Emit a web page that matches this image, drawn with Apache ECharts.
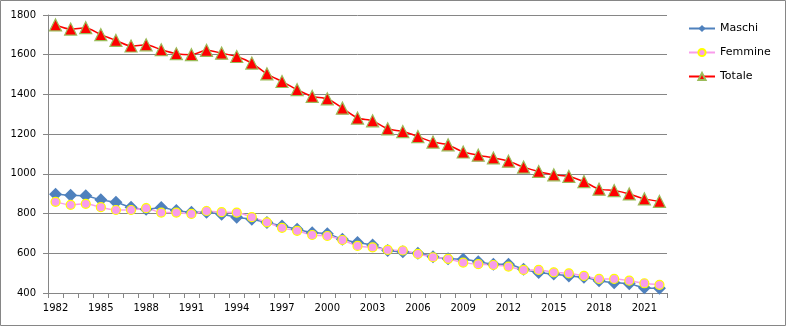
<!DOCTYPE html>
<html><head><meta charset="utf-8">
<script src="https://cdn.jsdelivr.net/npm/echarts@6/dist/echarts.min.js"></script>
<style>html,body{margin:0;padding:0;background:#fff}#c{width:786px;height:327px}</style>
</head><body><div id="c"></div>
<script>
const years = [];
for (let y = 1982; y <= 2022; y++) years.push(String(y));
const maschi = [897,892,890,869,857,832,822,830,815,807,807,797,782,771,755,738,721,704,698,671,654,642,614,608,600,583,572,570,558,545,545,519,503,496,486,479,462,452,446,427,424];
const femmine = [859,844,849,832,818,818,827,805,805,798,813,807,805,782,756,728,713,692,687,667,637,630,617,614,597,580,572,553,545,541,533,516,516,504,499,486,471,471,462,449,441];
const totale = [1750,1729,1736,1701,1672,1644,1650,1625,1605,1600,1622,1608,1591,1558,1504,1465,1424,1390,1378,1331,1281,1267,1227,1213,1188,1160,1146,1110,1094,1080,1064,1034,1012,995,987,961,923,916,899,874,861];
const yTicks = {min: 400, max: 1800, interval: 200};

const font = 'DejaVu Sans';
const chart = echarts.init(document.getElementById('c'), null, {renderer: 'canvas'});
chart.setOption({
  animation: false,
  backgroundColor: '#fff',
  graphic: [{type: 'rect', shape: {x: 0.5, y: 0.5, width: 785, height: 325}, style: {fill: 'none', stroke: '#868686', lineWidth: 1}, silent: true}],
  grid: {left: 48, right: 119, top: 15, bottom: 34},
  legend: {
    orient: 'vertical', left: 683, top: 18, itemWidth: 26, itemHeight: 9, itemGap: 13,
    textStyle: {fontFamily: font, fontSize: 11, color: '#000'},
    data: ['Maschi', 'Femmine', 'Totale']
  },
  xAxis: {
    type: 'category', data: years, boundaryGap: true,
    axisLine: {lineStyle: {color: '#868686'}},
    axisTick: {show: true, interval: 0, length: 5, lineStyle: {color: '#868686'}},
    axisLabel: {interval: 2, margin: 10, fontFamily: font, fontSize: 10, color: '#000'},
    splitLine: {show: false}
  },
  yAxis: {
    type: 'value', min: yTicks.min, max: yTicks.max, interval: yTicks.interval,
    axisLine: {show: true, lineStyle: {color: '#868686'}},
    axisTick: {show: true, length: 5, lineStyle: {color: '#868686'}},
    axisLabel: {margin: 12, fontFamily: font, fontSize: 10, color: '#000', formatter: v => String(v)},
    splitLine: {lineStyle: {color: '#868686', width: 1}}
  },
  series: [
    {name: 'Maschi', type: 'line', data: maschi, smooth: 0.25, showAllSymbol: true,
     symbol: 'diamond', symbolSize: 13,
     lineStyle: {color: '#4F81BD', width: 1.5},
     itemStyle: {color: '#4F81BD', borderColor: '#4F81BD', borderWidth: 0}},
    {name: 'Femmine', type: 'line', data: femmine, smooth: 0.25, showAllSymbol: true,
     symbol: 'circle', symbolSize: 9,
     lineStyle: {color: '#F99CEB', width: 1.5},
     itemStyle: {color: '#F99CEB', borderColor: '#FFFF00', borderWidth: 1.2}},
    {name: 'Totale', type: 'line', data: totale, smooth: 0.25, showAllSymbol: true,
     symbol: 'triangle', symbolSize: 12,
     lineStyle: {color: '#FF0000', width: 1.5},
     itemStyle: {color: '#FF0000', borderColor: '#9BBB59', borderWidth: 1.2}}
  ]
});
</script></body></html>
